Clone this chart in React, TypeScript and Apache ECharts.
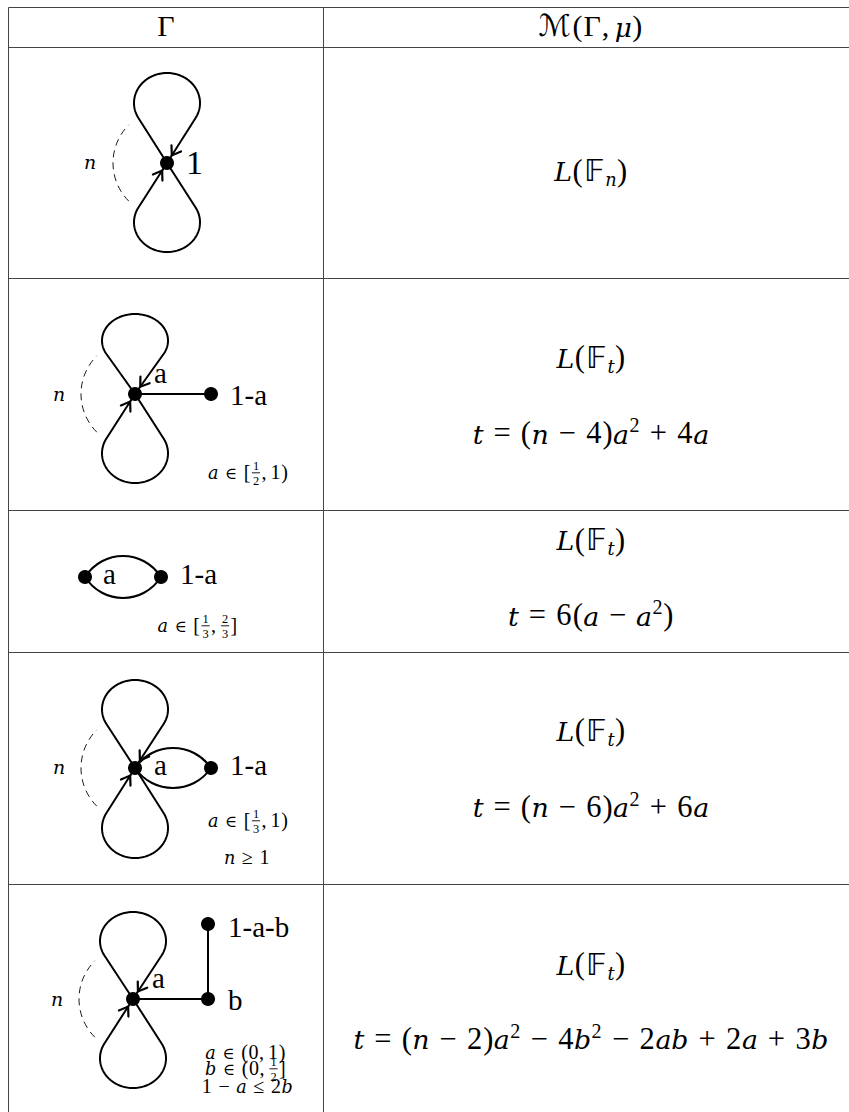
import React, { useEffect, useRef } from "react";
import * as echarts from "echarts";

const W = 849;
const H = 1112;

// ---------- table rules ----------
const COL_RULES = [8.5, 323.5];
const ROW_RULES = [7.5, 47.5, 278.5, 510.5, 652.5, 884.5];

// ---------- header ----------
const HEADER_TEXT = ["Γ", "ℳ(Γ, μ)"];
const HEADER_X = [166, 590];
const HEADER_BASE = 36;

// ---------- right column: M(Γ, μ) ----------
const FORMULAS: string[][] = [
  ["L(𝔽_n)"],
  ["L(𝔽_t)", "t = (n − 4)a^2 + 4a"],
  ["L(𝔽_t)", "t = 6(a − a^2)"],
  ["L(𝔽_t)", "t = (n − 6)a^2 + 6a"],
  ["L(𝔽_t)", "t = (n − 2)a^2 − 4b^2 − 2ab + 2a + 3b"],
];
const FORMULA_BASE: number[][] = [
  [181],
  [367.5, 443.5],
  [550, 625.5],
  [740.5, 817],
  [974.5, 1049],
];
const FORMULA_CX = 591;

// ---------- left column: graphs Γ ----------
const HUBS: ([number, number] | null)[] = [[167, 163], [135, 394], null, [135, 768], [133, 999]];
const LOOP_EXT: ([number, number] | null)[] = [[90, 89], [80, 89], null, [88, 90], [87, 89]];
const VERTICES: [number, number][][] = [
  [],
  [[211, 394]],
  [[85, 577], [161, 577]],
  [[211, 768]],
  [[208, 999], [208, 924]],
];
const STRAIGHT_EDGES: [number, number][][] = [[], [[-1, 0]], [], [], [[-1, 0], [0, 1]]];
const LENS_EDGES: [number, number, number][][] = [[], [], [[0, 1, 21]], [[-1, 0, 20]], []];
const VERTEX_LABELS: [string, number, number, number][][] = [
  [["1", 186, 174, 34]],
  [["a", 154, 383, 29], ["1-a", 230, 405, 29]],
  [["a", 103, 584, 29], ["1-a", 180, 584, 29]],
  [["a", 154, 775, 29], ["1-a", 230, 775, 29]],
  [["a", 152, 988, 29], ["b", 228, 1010, 29], ["1-a-b", 228, 937, 29]],
];
const N_LABEL: ([number, number] | null)[] = [[84, 168], [53, 400], null, [53, 773], [51, 1005]];
const CONDITIONS: [string, number, number][][] = [
  [],
  [["a ∈ [{1/2}, 1)", 248, 479]],
  [["a ∈ [{1/3}, {2/3}]", 197.5, 632]],
  [["a ∈ [{1/3}, 1)", 248, 827], ["n ≥ 1", 247, 864]],
  [["a ∈ (0, 1)", 245.5, 1059], ["b ∈ (0, {1/2}]", 245.5, 1075], ["1 − a ≤ 2b", 247, 1093]],
];

// ---------- styling ----------
const MAIN = "Liberation Serif, serif";
const ITAL = "DejaVu Serif, serif";
const IT_SCALE = 0.88;
const BB = "DejaVu Sans, DejaVu Serif, sans-serif";
const CAL = "DejaVu Serif, DejaVu Sans, serif";
const SYM = "DejaVu Serif, DejaVu Sans, serif";
const CENTRAL = 0.34;
const SPREAD = 1.08;
const SCRIPT = 0.66;
const FRAC_SZ = 0.62;
const RULE_COLOR = "#444";
const INK = "#000";

let mctx: CanvasRenderingContext2D | null = null;
function measure(s: string, size: number, it: boolean, fam: string) {
  if (!mctx) mctx = document.createElement("canvas").getContext("2d");
  mctx!.font = `${it ? "italic " : ""}${size}px ${fam}`;
  return mctx!.measureText(s).width;
}

function textEl(s: string, x: number, baseline: number, size: number, it: boolean, fam: string, align = "center") {
  return {
    type: "text",
    x,
    y: baseline - CENTRAL * size,
    silent: true,
    z: 10,
    style: {
      text: s,
      fontSize: size,
      fontFamily: fam,
      fontStyle: it ? "italic" : "normal",
      fontWeight: "normal",
      fill: INK,
      align,
      verticalAlign: "middle",
      textAlign: align,
      textVerticalAlign: "middle",
    },
  };
}

type Tok = { s?: string; it?: boolean; sz?: number; dy?: number; fam?: string; spL?: number; spR?: number; frac?: [string, string] };

function parseMath(src: string): Tok[] {
  const ch = Array.from(src);
  const out: Tok[] = [];
  let i = 0;
  while (i < ch.length) {
    const c = ch[i];
    if (c === " ") { i++; continue; }
    if (c === "^" || c === "_") {
      const n = ch[i + 1];
      out.push({ s: n, it: /[A-Za-zμ]/.test(n), sz: SCRIPT, dy: c === "^" ? -0.37 : 0.17 });
      i += 2;
      continue;
    }
    if (c === "{") {
      const j = ch.indexOf("}", i);
      const [nu, de] = ch.slice(i + 1, j).join("").split("/");
      out.push({ frac: [nu, de] });
      i = j + 1;
      continue;
    }
    if (c === "∈") out.push({ s: c, fam: SYM, sz: 0.82, spL: 0.3, spR: 0.3 });
    else if (c === "=" || c === "≤" || c === "≥") out.push({ s: c, spL: 0.3, spR: 0.3 });
    else if (c === "+" || c === "−") out.push({ s: c, spL: 0.3, spR: 0.3 });
    else if (c === ",") out.push({ s: c, spR: 0.17 });
    else if (c === "𝔽") out.push({ s: c, fam: BB });
    else if (c === "ℳ") out.push({ s: c, fam: CAL });
    else if (/[A-Za-zμ]/.test(c)) out.push({ s: c, it: true });
    else out.push({ s: c });
    i++;
  }
  return out;
}

function mathEls(src: string, fs: number, ax: number, base: number, align: "center" | "left") {
  const toks = parseMath(src);
  const items = toks.map((t) => {
    if (t.frac) {
      const sz = fs * FRAC_SZ;
      const w = Math.max(measure(t.frac[0], sz, false, MAIN), measure(t.frac[1], sz, false, MAIN)) + 0.36 * sz;
      return { t, sz, fam: MAIN, wt: w, w };
    }
    let sz = fs * (t.sz ?? 1);
    let fam = t.fam ?? MAIN;
    let spread = SPREAD;
    if (t.it) {
      sz *= IT_SCALE;
      fam = ITAL;
      spread = 1.0;
    }
    const wt = measure(t.s!, sz, !!t.it, fam) * spread;
    return { t, sz, fam, wt, w: wt + ((t.spL ?? 0) + (t.spR ?? 0)) * fs };
  });
  const total = items.reduce((a, b) => a + b.w, 0);
  let x = align === "center" ? ax - total / 2 : ax;
  const els: any[] = [];
  for (const it of items) {
    const t = it.t;
    if (t.frac) {
      const cx = x + it.w / 2;
      els.push(textEl(t.frac[0], cx, base - 0.43 * fs, it.sz, false, MAIN));
      els.push(textEl(t.frac[1], cx, base + 0.29 * fs, it.sz, false, MAIN));
      els.push({
        type: "line",
        silent: true,
        z: 10,
        shape: { x1: x + 0.1 * it.sz, y1: base - 0.31 * fs, x2: x + it.w - 0.1 * it.sz, y2: base - 0.31 * fs },
        style: { stroke: INK, lineWidth: 0.9 },
      });
    } else {
      const cx = x + (t.spL ?? 0) * fs + it.wt / 2;
      els.push(textEl(t.s!, cx, base + (t.dy ?? 0) * fs, it.sz, !!t.it, it.fam));
    }
    x += it.w;
  }
  return els;
}

// ---------- graph helpers ----------
const LOOP_RX = 33;
const EDGE_W = 2;
const NODE_R = 7;

function loop(hx: number, hy: number, ext: number, sgn: number) {
  const rx = LOOP_RX;
  const ry = ext / 3;
  const c = ext - ry;
  const sy = ry / rx;
  const dN = c / sy;
  const alpha = Math.asin(rx / dN);
  const Ln = Math.sqrt(dN * dN - rx * rx);
  const tx = Ln * Math.sin(alpha);
  const ty = -Ln * Math.cos(alpha);
  const th = Math.atan2(ty + dN, tx);
  const pts: number[][] = [[hx, hy]];
  const N = 96;
  for (let i = 0; i <= N; i++) {
    const a = th - ((Math.PI + 2 * th) * i) / N;
    const px = rx * Math.cos(a);
    const py = (-dN + rx * Math.sin(a)) * sy;
    pts.push([hx + px, sgn < 0 ? hy + py : hy - py]);
  }
  pts.push([hx, hy]);
  const yT = sgn < 0 ? hy + ty * sy : hy - ty * sy;
  return { pts, right: [hx + tx, yT], left: [hx - tx, yT] };
}

function arrowHead(hub: number[], from: number[], tipDist = 9, len = 10, ang = 0.6) {
  const dx = hub[0] - from[0];
  const dy = hub[1] - from[1];
  const L = Math.hypot(dx, dy);
  const u = [dx / L, dy / L];
  const tip = [hub[0] - u[0] * tipDist, hub[1] - u[1] * tipDist];
  const barb = (s: number) => {
    const c = Math.cos(s * ang);
    const sn = Math.sin(s * ang);
    const rx = u[0] * c - u[1] * sn;
    const ry = u[0] * sn + u[1] * c;
    return [tip[0] - rx * len, tip[1] - ry * len];
  };
  return {
    type: "polyline",
    silent: true,
    z: 5,
    shape: { points: [barb(1), tip, barb(-1)] },
    style: { stroke: INK, fill: "none", lineWidth: 2.2, lineJoin: "miter", lineCap: "round" },
  };
}

function buildElements() {
  const els: any[] = [];
  for (const y of ROW_RULES) {
    els.push({ type: "line", silent: true, shape: { x1: COL_RULES[0], y1: y, x2: W, y2: y }, style: { stroke: RULE_COLOR, lineWidth: 1 } });
  }
  for (const x of COL_RULES) {
    els.push({ type: "line", silent: true, shape: { x1: x, y1: ROW_RULES[0], x2: x, y2: H }, style: { stroke: RULE_COLOR, lineWidth: 1 } });
  }
  HEADER_TEXT.forEach((s, i) => els.push(...mathEls(s, 30, HEADER_X[i], HEADER_BASE, "center")));
  FORMULAS.forEach((rows, r) => rows.forEach((f, k) => els.push(...mathEls(f, 30.5, FORMULA_CX, FORMULA_BASE[r][k], "center"))));

  for (let r = 0; r < HUBS.length; r++) {
    const hub = HUBS[r];
    const verts = VERTICES[r];
    const at = (k: number) => (k < 0 ? hub! : verts[k]);
    if (hub && LOOP_EXT[r]) {
      const [eTop, eBot] = LOOP_EXT[r]!;
      const up = loop(hub[0], hub[1], eTop, -1);
      const dn = loop(hub[0], hub[1], eBot, 1);
      for (const lp of [up, dn]) {
        els.push({ type: "polyline", silent: true, z: 4, shape: { points: lp.pts }, style: { stroke: INK, fill: "none", lineWidth: EDGE_W, lineJoin: "round" } });
      }
      els.push(arrowHead(hub, up.right));
      els.push(arrowHead(hub, dn.left));
      els.push({
        type: "arc",
        silent: true,
        z: 3,
        shape: { cx: hub[0], cy: hub[1], r: 54, startAngle: (3 * Math.PI) / 4, endAngle: (5 * Math.PI) / 4, clockwise: true },
        style: { stroke: INK, fill: "none", lineWidth: 0.9, lineDash: [7, 5] },
      });
    }
    for (const [a, b] of STRAIGHT_EDGES[r]) {
      const p = at(a);
      const q = at(b);
      els.push({ type: "line", silent: true, z: 4, shape: { x1: p[0], y1: p[1], x2: q[0], y2: q[1] }, style: { stroke: INK, lineWidth: EDGE_W } });
    }
    for (const [a, b, bulge] of LENS_EDGES[r]) {
      const p = at(a);
      const q = at(b);
      const k = bulge / 0.75;
      const dx = (q[0] - p[0]) * 0.24;
      for (const s of [-1, 1]) {
        els.push({
          type: "bezierCurve",
          silent: true,
          z: 4,
          shape: { x1: p[0], y1: p[1], x2: q[0], y2: q[1], cpx1: p[0] + dx, cpy1: p[1] + s * k, cpx2: q[0] - dx, cpy2: q[1] + s * k },
          style: { stroke: INK, fill: "none", lineWidth: EDGE_W },
        });
      }
    }
    const allNodes = hub ? [hub, ...verts] : verts;
    for (const v of allNodes) {
      els.push({ type: "circle", silent: true, z: 6, shape: { cx: v[0], cy: v[1], r: NODE_R }, style: { fill: INK } });
    }
    for (const [s, x, b, sz] of VERTEX_LABELS[r]) {
      els.push(textEl(s, x, b, sz, false, MAIN, "left"));
    }
    const nl = N_LABEL[r];
    if (nl) els.push(...mathEls("n", 21.5, nl[0], nl[1], "left"));
    for (const [s, cx, b] of CONDITIONS[r]) {
      els.push(...mathEls(s, 20, cx, b, "center"));
    }
  }
  return els;
}

export default function App() {
  const ref = useRef<HTMLDivElement>(null);
  useEffect(() => {
    document.body.style.margin = "0";
    document.body.style.overflow = "hidden";
    const chart = echarts.init(ref.current!, null, { renderer: "svg" });
    chart.setOption({ animation: false, backgroundColor: "#fff", graphic: { elements: buildElements() } });
    return () => chart.dispose();
  }, []);
  return <div ref={ref} style={{ width: W, height: H, background: "#fff" }} />;
}
